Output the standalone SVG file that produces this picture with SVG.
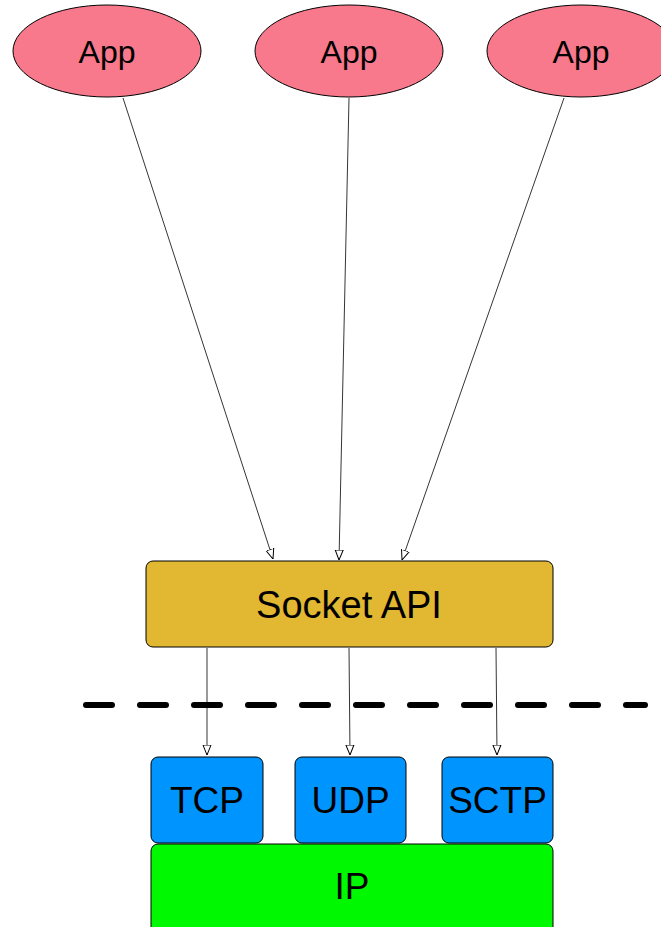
<svg xmlns="http://www.w3.org/2000/svg" width="661" height="927" viewBox="0 0 661 927">
<style>
text{font-family:"Liberation Sans",Arial,sans-serif;fill:#000;text-anchor:middle}
.app{fill:#F7798B;stroke:#000;stroke-width:1}
.box{stroke:#000;stroke-width:1}
.edge{stroke:#000;stroke-width:0.8;fill:none;marker-end:url(#arr)}
</style>
<defs>
<marker id="arr" viewBox="0 0 10 10" refX="10" refY="5" markerWidth="10" markerHeight="10" markerUnits="userSpaceOnUse" orient="auto">
<path d="M0,1 L10,5 L0,9 Z" fill="#fff" stroke="#000" stroke-width="1"/>
</marker>
</defs>
<rect width="661" height="927" fill="#fff"/>
<g id="app1"><ellipse class="app" cx="107" cy="51" rx="94" ry="46"/><text x="107" y="63" font-size="32">App</text></g>
<g id="app2"><ellipse class="app" cx="349" cy="51" rx="94" ry="46"/><text x="349" y="63" font-size="32">App</text></g>
<g id="app3"><ellipse class="app" cx="581" cy="51" rx="94" ry="46"/><text x="581" y="63" font-size="32">App</text></g>
<g id="socket"><rect class="box" x="146" y="561" width="407" height="86" rx="7" fill="#E2B731"/><text x="349" y="618" font-size="38">Socket API</text></g>
<g id="divider"><line x1="86" y1="705" x2="645" y2="705" stroke="#000" stroke-width="6" stroke-linecap="round" stroke-dasharray="26 28"/></g>
<g id="tcp"><rect class="box" x="151" y="757" width="112" height="86" rx="7" fill="#0094FF"/><text x="207" y="813" font-size="37">TCP</text></g>
<g id="udp"><rect class="box" x="295" y="757" width="111" height="86" rx="7" fill="#0094FF"/><text x="350.5" y="813" font-size="37">UDP</text></g>
<g id="sctp"><rect class="box" x="442" y="757" width="111" height="86" rx="7" fill="#0094FF"/><text x="497.5" y="813" font-size="37">SCTP</text></g>
<g id="ip"><rect class="box" x="151" y="844" width="402" height="100" rx="7" fill="#00F900"/><text x="352" y="899" font-size="37">IP</text></g>
<g id="connectors">
<line class="edge" x1="123" y1="98" x2="273" y2="559"/>
<line class="edge" x1="349" y1="98" x2="339" y2="560"/>
<line class="edge" x1="564" y1="98" x2="402" y2="560"/>
<line class="edge" x1="207" y1="648" x2="207" y2="755"/>
<line class="edge" x1="349" y1="648" x2="350" y2="755"/>
<line class="edge" x1="496" y1="648" x2="497" y2="755"/>
</g>
</svg>
